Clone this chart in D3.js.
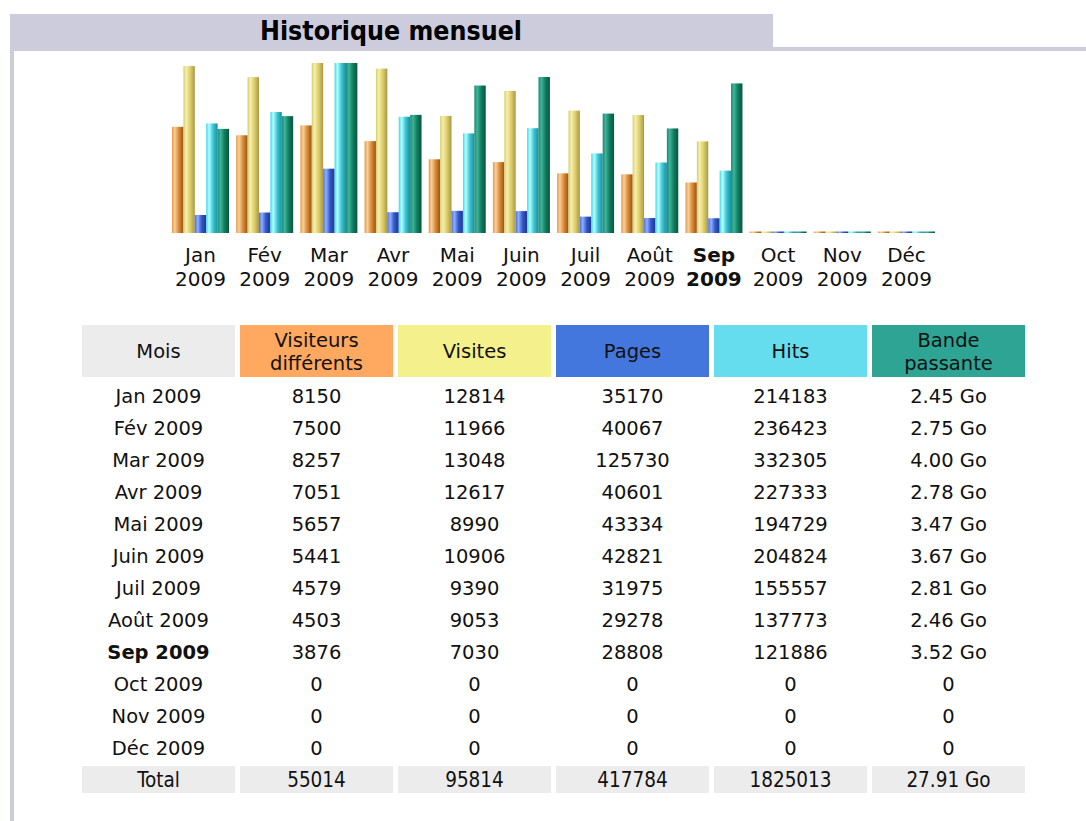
<!DOCTYPE html>
<meta charset="utf-8">
<body style="margin:0;background:#fff">
<style>
  text { font-family: "DejaVu Sans", Verdana, sans-serif; fill: #111; }
  .cond { font-family: "DejaVu Sans Condensed", "DejaVu Sans", sans-serif; font-stretch: condensed; }
</style>
<script src="https://d3js.org/d3.v7.min.js"></script>
<script>
var width = 1086, height = 821;

// monthly history
var months    = ["Jan","Fév","Mar","Avr","Mai","Juin","Juil","Août","Sep","Oct","Nov","Déc"];
var year      = "2009";
var current   = "Sep";
var visitors  = [8150, 7500, 8257, 7051, 5657, 5441, 4579, 4503, 3876, 0, 0, 0];
var visits    = [12814, 11966, 13048, 12617, 8990, 10906, 9390, 9053, 7030, 0, 0, 0];
var pages     = [35170, 40067, 125730, 40601, 43334, 42821, 31975, 29278, 28808, 0, 0, 0];
var hits      = [214183, 236423, 332305, 227333, 194729, 204824, 155557, 137773, 121886, 0, 0, 0];
var bandwidth = [2.45, 2.75, 4.00, 2.78, 3.47, 3.67, 2.81, 2.46, 3.52, 0, 0, 0];
var totals    = ["Total", "55014", "95814", "417784", "1825013", "27.91 Go"];

var headers = [["Mois"], ["Visiteurs","différents"], ["Visites"], ["Pages"], ["Hits"], ["Bande","passante"]];
var headColors = ["#ececec", "#ffa860", "#f4f08c", "#4477dd", "#66ddee", "#2ea495"];

var series = ["u","v","p","h","k"];
// bar shading: [edge, highlight, mid, dark]
var shades = {
  u: ["#e39a48", "#f9cf98", "#d88a36", "#9a5210"],
  v: ["#d9cd70", "#f5efaa", "#dccd6a", "#a89846"],
  p: ["#4f70d8", "#8fb0ff", "#3556c8", "#1a3990"],
  h: ["#3fd6e6", "#b4ffff", "#3ec4d4", "#16909e"],
  k: ["#1c8a72", "#3fb49c", "#117e60", "#09543c"]
};

var svg = d3.select("body").append("svg")
  .attr("width", width)
  .attr("height", height);

var defs = svg.append("defs");
series.forEach(function(s) {
  var g = defs.append("linearGradient").attr("id", "g" + s)
    .attr("x1", 0).attr("x2", 1).attr("y1", 0).attr("y2", 0);
  [0, 0.25, 0.6, 1].forEach(function(o, i) {
    g.append("stop").attr("offset", o).attr("stop-color", shades[s][i]);
  });
});

// frame + title tab
var frame = "#ccccdd";
svg.append("rect").attr("x", 10).attr("y", 14).attr("width", 763).attr("height", 37).attr("fill", frame);
svg.append("rect").attr("x", 773).attr("y", 47).attr("width", width - 773).attr("height", 4).attr("fill", frame);
svg.append("rect").attr("x", 10).attr("y", 14).attr("width", 4).attr("height", height - 14).attr("fill", frame);
svg.append("text").attr("class", "cond")
  .attr("x", 391).attr("y", 40)
  .attr("text-anchor", "middle")
  .attr("font-size", 26.5).attr("font-weight", "bold")
  .style("fill", "#000")
  .text("Historique mensuel");

// ---- bar chart ----
var base = 233, barMax = 170;
var step = 64.18, groupW = 57;
var x = d3.scaleBand().domain(months)
  .range([172, 172 + 11 * step + groupW])
  .paddingInner((step - groupW) / step).paddingOuter(0);
var xs = d3.scaleBand().domain(series).range([0, x.bandwidth()]);

// visitors & visits share a scale, pages & hits share one, bandwidth alone
var yv = d3.scaleLinear().domain([0, d3.max(visits)]).range([0, barMax]);
var yh = d3.scaleLinear().domain([0, d3.max(hits)]).range([0, barMax]);
var yk = d3.scaleLinear().domain([0, d3.max(bandwidth)]).range([0, barMax]);

var barData = [];
months.forEach(function(m, i) {
  barData.push({m: m, s: "u", h: yv(visitors[i])});
  barData.push({m: m, s: "v", h: yv(visits[i])});
  barData.push({m: m, s: "p", h: yh(pages[i])});
  barData.push({m: m, s: "h", h: yh(hits[i])});
  barData.push({m: m, s: "k", h: yk(bandwidth[i])});
});

svg.append("g").selectAll("rect")
  .data(barData)
  .enter().append("rect")
  .attr("x", function(d) { return x(d.m) + xs(d.s); })
  .attr("y", function(d) { return base - Math.max(d.h, 1.5); })
  .attr("width", xs.bandwidth())
  .attr("height", function(d) { return Math.max(d.h, 1.5); })
  .attr("fill", function(d) { return "url(#g" + d.s + ")"; });

var lab = svg.append("g").selectAll("text")
  .data(months)
  .enter().append("text")
  .attr("x", function(d) { return x(d) + x.bandwidth() / 2; })
  .attr("text-anchor", "middle")
  .attr("font-size", 20)
  .attr("font-weight", function(d) { return d === current ? "bold" : null; });
lab.append("tspan").attr("y", 262).text(function(d) { return d; });
lab.append("tspan").attr("x", function(d) { return x(d) + x.bandwidth() / 2; }).attr("y", 286).text(year);

// ---- table ----
var cols = d3.range(6);
var cx = d3.scaleBand().domain(cols).range([82, 82 + 6 * 158 - 5]).paddingInner(5 / 158).paddingOuter(0);
var rowY = d3.scaleLinear().domain([0, 1]).range([396, 428]);

var head = svg.append("g");
head.selectAll("rect").data(cols).enter().append("rect")
  .attr("x", function(d) { return cx(d); })
  .attr("y", 325).attr("width", cx.bandwidth()).attr("height", 52)
  .attr("fill", function(d) { return headColors[d]; });
head.selectAll("text").data(cols).enter().append("text")
  .attr("text-anchor", "middle")
  .attr("font-size", 19.5)
  .each(function(d) {
    var lines = headers[d], t = d3.select(this);
    lines.forEach(function(l, k) {
      t.append("tspan")
        .attr("x", cx(d) + cx.bandwidth() / 2)
        .attr("y", lines.length === 1 ? 358 : 347 + k * 23)
        .text(l);
    });
  });

var rows = months.map(function(m, i) {
  var bw = bandwidth[i] ? bandwidth[i].toFixed(2) + " Go" : "0";
  return [m + " " + year, visitors[i], visits[i], pages[i], hits[i], bw];
});

var body = svg.append("g");
rows.forEach(function(r, i) {
  body.append("g").selectAll("text").data(r).enter().append("text")
    .attr("x", function(d, j) { return cx(j) + cx.bandwidth() / 2; })
    .attr("y", rowY(i) + 7)
    .attr("text-anchor", "middle")
    .attr("font-size", 19.5)
    .attr("font-weight", function(d, j) { return j === 0 && months[i] === current ? "bold" : null; })
    .text(function(d) { return d; });
});

var tot = svg.append("g");
tot.selectAll("rect").data(cols).enter().append("rect")
  .attr("x", function(d) { return cx(d); })
  .attr("y", 766).attr("width", cx.bandwidth()).attr("height", 27)
  .attr("fill", "#ececec");
tot.selectAll("text").data(totals).enter().append("text")
  .attr("class", "cond")
  .attr("x", function(d, j) { return cx(j) + cx.bandwidth() / 2; })
  .attr("y", 787)
  .attr("text-anchor", "middle")
  .attr("font-size", 20.5)
  .text(function(d) { return d; });
</script>
</body>
